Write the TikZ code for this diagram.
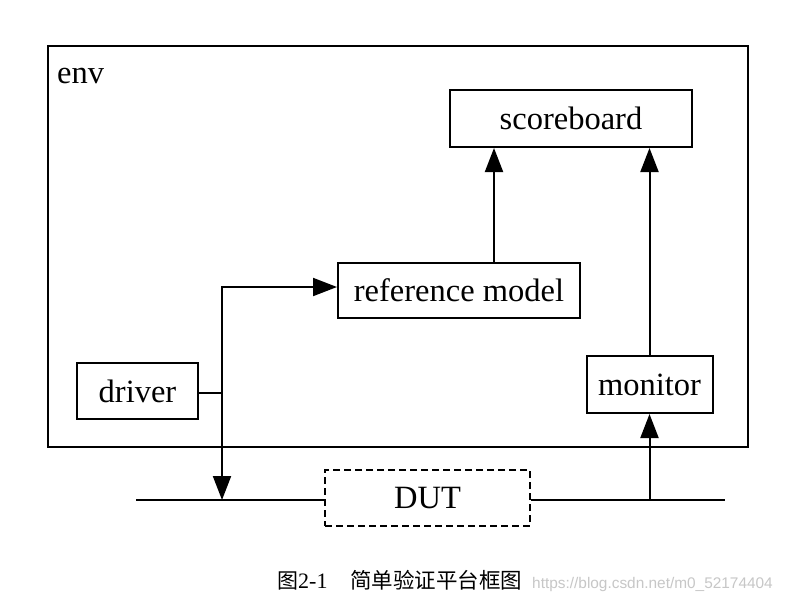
\documentclass[tikz,border=0pt]{standalone}
\usepackage{fontspec}
\setmainfont{Liberation Serif}
\newfontfamily\cjk{Noto Sans CJK SC}
\newfontfamily\wmfont{Liberation Sans}
\usetikzlibrary{arrows.meta}
\begin{document}
\begin{tikzpicture}[x=1pt,y=-1pt,
  box/.style={draw, line width=2pt, inner sep=0pt, font=\fontsize{32.5}{36}\selectfont},
  conn/.style={line width=2pt},
  arr/.style={conn, -{Triangle[length=24pt,width=18pt]}},
  lbl/.style={inner sep=0pt, anchor=base west, font=\fontsize{32.5}{36}\selectfont}]
\useasboundingbox (0,0) rectangle (797,600);
\fill[white] (0,0) rectangle (797,600);
% env
\node[draw, line width=2.5pt, minimum width=700pt, minimum height=401pt, inner sep=0pt] (env) at (398,246.5) {};
\node[lbl] (envlbl) at (57,83) {env};
% blocks
\node[box, minimum width=242pt, minimum height=57pt] (sb) at (571,118.5) {scoreboard};
\node[box, minimum width=242pt, minimum height=55pt] (rm) at (459,290.5) {reference model};
\node[box, minimum width=121pt, minimum height=56pt] (drv) at (137.5,391) {driver};
\node[box, minimum width=126pt, minimum height=57pt] (mon) at (649.5,384.5) {monitor};
\node[box, dash pattern=on 7pt off 4pt, minimum width=205pt, minimum height=56pt] (dut) at (427.5,498) {DUT};
% bus
\coordinate (busL) at (136,500);
\coordinate (busR) at (725,500);
\draw[conn] (busL) -- (dut.west |- busL);
\draw[conn] (dut.east |- busR) -- (busR);
% driver connections
\coordinate (j) at (222,393);
\coordinate (rmin) at (337,287);
\draw[conn] (drv.east |- j) -- (j);
\draw[arr] (j) |- (rm.west |- rmin);
\draw[arr] (j) -- (j |- busL);
% ref model to scoreboard
\coordinate (ax) at (494,0);
\draw[arr] (rm.north -| ax) -- (sb.south -| ax);
% monitor
\draw[arr] (mon.north) -- (mon.north |- sb.south);
\draw[arr] (mon.south |- busR) -- (mon.south);
% caption
\node[inner sep=0pt, anchor=base west] (cap1) at (277,588) {{\cjk\fontsize{21}{24}\selectfont 图}{\fontsize{22}{24}\selectfont 2-1}};
\node[inner sep=0pt, anchor=base west] (cap2) at (350,588) {\cjk\fontsize{21.5}{24}\selectfont 简单验证平台框图};
\node[inner sep=0pt, anchor=base west, text=black!22] (wm) at (532,588) {\wmfont\fontsize{15.4}{18}\selectfont https://blog.csdn.net/m0\_52174404};
\end{tikzpicture}
\end{document}
